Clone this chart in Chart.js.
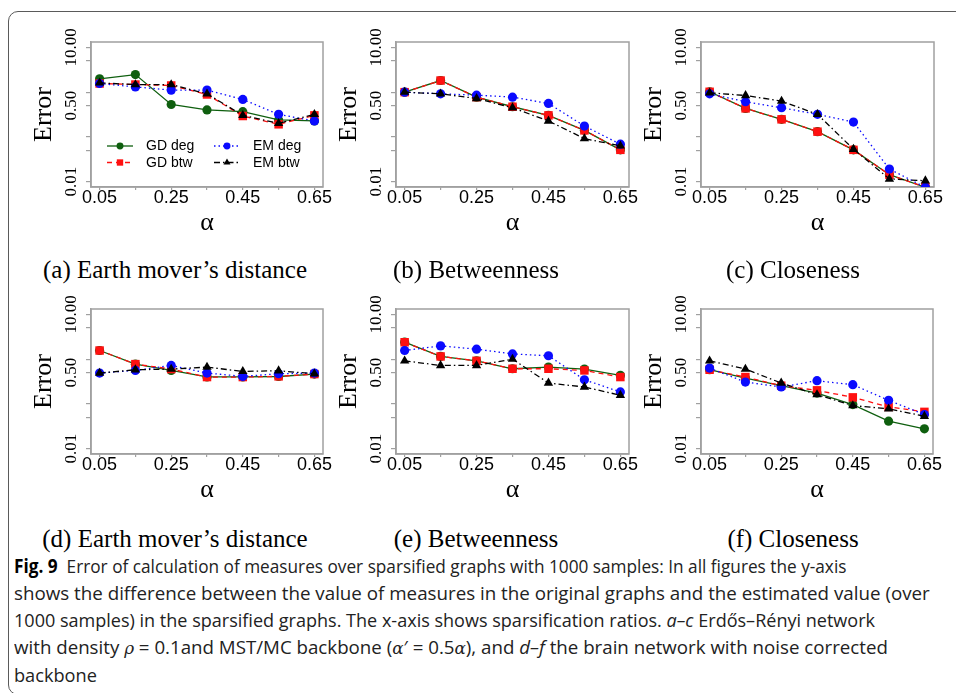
<!DOCTYPE html>
<html>
<head>
<meta charset="utf-8">
<script src="https://cdn.jsdelivr.net/npm/chart.js@4.4.1/dist/chart.umd.min.js"></script>
<style>
  html, body { margin: 0; padding: 0; background: #fff; }
  body { width: 956px; height: 693px; position: relative; overflow: hidden; }
  .frame { position: absolute; left: 8px; top: 11px; width: 1000px; height: 682px;
           border: 1.5px solid #5a5a5a; border-radius: 10px; }
  canvas { position: absolute; }
  .sub { position: absolute; font-family: 'Liberation Serif', serif; font-size: 25px;
         line-height: 28px; white-space: nowrap; transform: translateX(-50%); color: #000; }
  .cap { position: absolute; left: 14px; font-family: 'Open Sans', sans-serif;
         font-size: 19px; line-height: 27px; white-space: nowrap; transform-origin: 0 0; color: #222; }
  .cap b { color: #000; }
  .cap .m { font-family: 'DejaVu Serif', serif; font-style: italic; font-size: 17px; }
</style>
</head>
<body>
<div class="frame"></div>

<canvas id="panelA"></canvas>
<canvas id="panelB"></canvas>
<canvas id="panelC"></canvas>
<canvas id="panelD"></canvas>
<canvas id="panelE"></canvas>
<canvas id="panelF"></canvas>

<div class="sub" style="left:175px; top:256px">(a) Earth mover’s distance</div>
<div class="sub" style="left:476px; top:256px">(b) Betweenness</div>
<div class="sub" style="left:793px; top:256px">(c) Closeness</div>
<div class="sub" style="left:175px; top:525px">(d) Earth mover’s distance</div>
<div class="sub" style="left:476px; top:525px">(e) Betweenness</div>
<div class="sub" style="left:793px; top:525px">(f) Closeness</div>

<div class="cap" style="top:553px"><b>Fig. 9</b>&nbsp; Error of calculation of measures over sparsified graphs with 1000 samples: In all figures the y-axis</div>
<div class="cap" style="top:580px">shows the difference between the value of measures in the original graphs and the estimated value (over</div>
<div class="cap" style="top:607px">1000 samples) in the sparsified graphs. The x-axis shows sparsification ratios. <i>a–c</i> Erdős–Rényi network</div>
<div class="cap" style="top:634px">with density <span class="m">ρ</span> = 0.1and MST/MC backbone (<span class="m">α</span>′ = 0.5<span class="m">α</span>), and <i>d–f</i> the brain network with noise corrected</div>
<div class="cap" style="top:662px">backbone</div>

<script>
// sparsification ratios (x) and axis ticks
const alphaValues = [0.05, 0.15, 0.25, 0.35, 0.45, 0.55, 0.65];
const xTickLabels = ['0.05', '', '0.25', '', '0.45', '', '0.65'];
const yTickValues = [0.01, 0.05, 0.1, 0.5, 1, 5, 10];
const yTickLabels = ['0.01', '', '', '0.50', '', '', '10.00'];

// (a) ER network, earth mover's distance
const gdDegA = [1.98, 2.47, 0.53, 0.40, 0.366, 0.239, 0.227];
const gdBtwA = [1.56, 1.48, 1.41, 0.887, 0.293, 0.191, 0.303];
const emDegA = [1.56, 1.31, 1.11, 1.11, 0.687, 0.319, 0.227];
const emBtwA = [1.61, 1.48, 1.48, 0.918, 0.303, 0.201, 0.319];

// (b) ER network, betweenness
const gdDegB = [1.0, 1.82, 0.774, 0.472, 0.303, 0.14, 0.0514];
const gdBtwB = [1.0, 1.82, 0.774, 0.472, 0.303, 0.14, 0.0514];
const emDegB = [1.0, 0.918, 0.857, 0.774, 0.56, 0.175, 0.0687];
const emBtwB = [1.0, 0.918, 0.723, 0.449, 0.227, 0.0918, 0.063];

// (c) ER network, closeness
const gdDegC = [1.02, 0.434, 0.247, 0.131, 0.0514, 0.0143, 0.0075];
const gdBtwC = [1.02, 0.434, 0.247, 0.131, 0.0514, 0.0143, 0.0075];
const emDegC = [0.918, 0.61, 0.449, 0.319, 0.215, 0.0191, 0.0075];
const emBtwC = [0.967, 0.843, 0.631, 0.319, 0.0532, 0.0115, 0.0105];

// (d) brain network, earth mover's distance
const gdDegD = [1.56, 0.774, 0.56, 0.40, 0.40, 0.41, 0.464];
const gdBtwD = [1.56, 0.774, 0.60, 0.398, 0.398, 0.412, 0.464];
const emDegD = [0.489, 0.56, 0.723, 0.489, 0.412, 0.472, 0.489];
const emBtwD = [0.489, 0.58, 0.60, 0.664, 0.532, 0.551, 0.472];

// (e) brain network, betweenness
const gdDegE = [2.39, 1.15, 0.918, 0.61, 0.664, 0.60, 0.434];
const gdBtwE = [2.39, 1.15, 0.918, 0.61, 0.61, 0.56, 0.398];
const emDegE = [1.56, 1.98, 1.67, 1.31, 1.19, 0.347, 0.185];
const emBtwE = [0.918, 0.723, 0.723, 1.0, 0.293, 0.239, 0.156];

// (f) brain network, closeness
const gdDegF = [0.58, 0.378, 0.255, 0.175, 0.0967, 0.0412, 0.0278];
const gdBtwF = [0.58, 0.398, 0.255, 0.201, 0.14, 0.0858, 0.0664];
const emDegF = [0.631, 0.308, 0.239, 0.33, 0.269, 0.12, 0.058];
const emBtwF = [0.918, 0.6, 0.293, 0.161, 0.0918, 0.0774, 0.0532];

const seriesNames = ['GD deg', 'GD btw', 'EM deg', 'EM btw'];

// line / marker look of the four methods
const seriesStyles = [
    { color: '#0f5f0f', dash: [], point: 'circle', radius: 4.6, order: 4 },
    { color: '#ff1010', dash: [5, 4], point: 'rect', radius: 6, order: 3 },
    { color: '#0a0aff', dash: [1.5, 3], point: 'circle', radius: 4.6, order: 2 },
    { color: '#000000', dash: [6, 3, 1.5, 3], point: 'triangle', radius: 5.4, order: 1 }
];

const boxColor = '#a0a0a0';

// box around the plot region and rotated y labels (R style)
const rAxisPlugin = {
    id: 'rAxis',
    beforeDatasetsDraw(chart) {
        const a = chart.chartArea, ctx = chart.ctx;
        ctx.save();
        ctx.strokeStyle = boxColor;
        ctx.lineWidth = 1.5;
        ctx.strokeRect(a.left, a.top, a.right - a.left, a.bottom - a.top);
        ctx.restore();
    },
    afterDraw(chart) {
        const ctx = chart.ctx, y = chart.scales.y, left = chart.chartArea.left;
        ctx.save();
        ctx.font = '17px "Liberation Serif"';
        ctx.fillStyle = '#000';
        ctx.textAlign = 'center';
        ctx.textBaseline = 'middle';
        yTickValues.forEach((v, i) => {
            if (!yTickLabels[i]) return;
            ctx.save();
            ctx.translate(left - 19, y.getPixelForValue(v));
            ctx.rotate(-Math.PI / 2);
            ctx.fillText(yTickLabels[i], 0, 0);
            ctx.restore();
        });
        ctx.restore();
    }
};

// two-column legend drawn inside the plot of panel (a)
const rLegendPlugin = {
    id: 'rLegend',
    afterDatasetsDraw(chart, args, opts) {
        if (!opts.show) return;
        const a = chart.chartArea, ctx = chart.ctx;
        const cols = [a.left + 16, a.left + 123];
        const rows = [a.top + 104, a.top + 120.5];
        ctx.save();
        seriesStyles.forEach((st, k) => {
            const x0 = cols[Math.floor(k / 2)], yy = rows[k % 2];
            ctx.strokeStyle = st.color;
            ctx.lineWidth = 1.3;
            ctx.setLineDash(st.dash);
            ctx.beginPath();
            ctx.moveTo(x0, yy);
            ctx.lineTo(x0 + 26, yy);
            ctx.stroke();
            ctx.setLineDash([]);
            ctx.fillStyle = st.color;
            Chart.helpers.drawPoint(ctx, {
                pointStyle: st.point, radius: st.radius * 0.75, rotation: 0, borderWidth: 0
            }, x0 + 13, yy);
            ctx.fillStyle = '#000';
            ctx.font = '14px "Liberation Sans"';
            ctx.textAlign = 'left';
            ctx.textBaseline = 'middle';
            ctx.fillText(seriesNames[k], x0 + 39, yy + 0.5);
        });
        ctx.restore();
    }
};

function makePanel(id, box, series, showLegend) {
    const cv = document.getElementById(id);
    cv.width = box.right - box.left + 105;
    cv.height = box.bottom - box.top + 66;
    cv.style.left = (box.left - 85) + 'px';
    cv.style.top = (box.top - 14) + 'px';

    return new Chart(cv, {
        type: 'line',
        data: {
            datasets: seriesStyles.map((st, k) => ({
                label: seriesNames[k],
                data: alphaValues.map((a, i) => ({ x: a, y: series[k][i] })),
                borderColor: st.color,
                backgroundColor: st.color,
                borderWidth: 1.3,
                borderDash: st.dash,
                pointStyle: st.point,
                pointRadius: st.radius,
                pointHoverRadius: st.radius,
                pointBorderWidth: 0,
                tension: 0,
                order: st.order
            }))
        },
        options: {
            responsive: false,
            animation: false,
            devicePixelRatio: 1,
            layout: { padding: { left: 0, right: 20, top: 14, bottom: 0 } },
            plugins: {
                legend: { display: false },
                tooltip: { enabled: false },
                rLegend: { show: showLegend }
            },
            scales: {
                x: {
                    type: 'linear',
                    min: 0.026,
                    max: 0.674,
                    afterBuildTicks: s => { s.ticks = alphaValues.map(v => ({ value: v })); },
                    afterFit: s => { s.height = 52; },
                    ticks: {
                        autoSkip: false, maxRotation: 0, minRotation: 0, padding: -3,
                        color: '#000',
                        font: { family: 'Liberation Sans', size: 18 },
                        callback: (v, i) => xTickLabels[i]
                    },
                    grid: { drawOnChartArea: false, tickLength: 3, color: boxColor, lineWidth: 1.2 },
                    border: { display: true, color: boxColor, width: 1.5 },
                    title: {
                        display: true, text: 'α', color: '#000',
                        font: { family: 'Liberation Serif', size: 26 },
                        padding: { top: 0, bottom: 0 }
                    }
                },
                y: {
                    type: 'logarithmic',
                    min: 0.0076,
                    max: 13.2,
                    bounds: 'data',
                    afterBuildTicks: s => { s.ticks = yTickValues.map(v => ({ value: v })); },
                    afterFit: s => { s.width = 85; },
                    ticks: { display: false },
                    grid: { drawOnChartArea: false, tickLength: 5, color: boxColor, lineWidth: 1.2 },
                    border: { display: true, color: boxColor, width: 1.5 },
                    title: {
                        display: true, text: 'Error', color: '#000',
                        font: { family: 'Liberation Serif', size: 26 },
                        padding: { top: 23, bottom: 0 }
                    }
                }
            }
        },
        plugins: [rAxisPlugin, rLegendPlugin]
    });
}

makePanel('panelA', { left: 91, right: 323, top: 42, bottom: 187 }, [gdDegA, gdBtwA, emDegA, emBtwA], true);
makePanel('panelB', { left: 396, right: 629, top: 42, bottom: 187 }, [gdDegB, gdBtwB, emDegB, emBtwB], false);
makePanel('panelC', { left: 701, right: 934, top: 42, bottom: 187 }, [gdDegC, gdBtwC, emDegC, emBtwC], false);
makePanel('panelD', { left: 91, right: 323, top: 309, bottom: 454 }, [gdDegD, gdBtwD, emDegD, emBtwD], false);
makePanel('panelE', { left: 396, right: 629, top: 309, bottom: 454 }, [gdDegE, gdBtwE, emDegE, emBtwE], false);
makePanel('panelF', { left: 701, right: 933, top: 309, bottom: 454 }, [gdDegF, gdBtwF, emDegF, emBtwF], false);

// stretch caption lines to the widths of the printed caption
const capRight = [846, 930, 875, 888];
const capLines = document.querySelectorAll('.cap');
let scaleSum = 0;
capRight.forEach((r, i) => {
    const k = (r - 14) / capLines[i].offsetWidth;
    capLines[i].style.transform = 'scaleX(' + k + ')';
    scaleSum += k;
});
capLines[4].style.transform = 'scaleX(' + (scaleSum / capRight.length) + ')';
</script>
</body>
</html>
